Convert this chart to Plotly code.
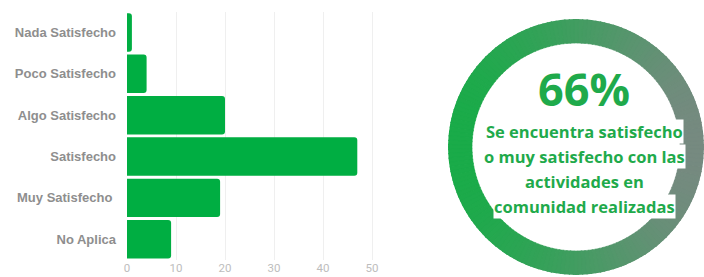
import math
import plotly.graph_objects as go

# ---- data ----
categories = ["Nada Satisfecho", "Poco Satisfecho", "Algo Satisfecho",
              "Satisfecho", "Muy Satisfecho\u00a0", "No Aplica"]
counts = [1, 4, 20, 47, 19, 9]
x_ticks = [0, 10, 20, 30, 40, 50]
headline = "66%"
caption_lines = ["Se encuentra satisfecho", "o muy satisfecho con las",
                 "actividades en", "comunidad realizadas"]

W, H = 704, 277
BAR_GREEN = "#00AE42"
TEXT_GREEN = "#1FAA4B"


def px(x):
    return x / W


def py(y):
    return 1 - y / H


fig = go.Figure()

fig.add_trace(go.Bar(
    y=categories, x=counts, orientation="h",
    marker=dict(color=BAR_GREEN, line=dict(width=0)),
    xaxis="x", yaxis="y", showlegend=False, hoverinfo="skip",
))

# ---- decorative gradient ring (built as thin polar segments) ----
c_left = (0x1A, 0xAB, 0x49)
c_right = (0x76, 0x8A, 0x80)
n_seg = 180
thetas, cols = [], []
for i in range(n_seg):
    t = i * 360 / n_seg
    f = (math.cos(math.radians(t)) + 1) / 2  # 0 at left, 1 at right
    f = f ** 1.2
    rgb = tuple(round(a + (b - a) * f) for a, b in zip(c_left, c_right))
    thetas.append(t)
    cols.append("rgb(%d,%d,%d)" % rgb)

ring_outer = 128
ring_width = 24
fig.add_trace(go.Barpolar(
    theta=thetas, r=[ring_width] * n_seg, base=[ring_outer - ring_width] * n_seg,
    width=[360 / n_seg + 0.3] * n_seg,
    marker=dict(color=cols, line=dict(color=cols, width=0.6)),
    subplot="polar", showlegend=False, hoverinfo="skip",
))

cx, cy = 576, 147
fig.update_layout(
    width=W, height=H,
    margin=dict(l=0, r=0, t=0, b=0),
    paper_bgcolor="white", plot_bgcolor="white",
    bargap=0.07,
    barcornerradius=3,
    hovermode=False,
    xaxis=dict(
        domain=[px(127), px(127 + 4.9 * 52)], range=[0, 52],
        tickvals=x_ticks, showgrid=True, gridcolor="#EFEFEF", gridwidth=1,
        zeroline=False, showline=False, ticks="",
        ticklabelstandoff=0,
        tickfont=dict(family="Roboto", size=11.5, color="#BDBDBD"),
        automargin=False,
    ),
    yaxis=dict(
        domain=[py(259.9), py(11.8)],
        categoryorder="array", categoryarray=categories[::-1],
        showgrid=False, zeroline=False, showline=False, ticks="",
        ticklabelstandoff=10,
        tickfont=dict(family="Liberation Sans", size=13, color="#8E8E8E", weight="bold"),
        automargin=False,
    ),
    polar=dict(
        domain=dict(x=[px(cx - ring_outer), px(cx + ring_outer)],
                    y=[py(cy + ring_outer), py(cy - ring_outer)]),
        bgcolor="rgba(0,0,0,0)",
        radialaxis=dict(visible=False, range=[0, ring_outer]),
        angularaxis=dict(visible=False),
        hole=0,
    ),
)

fig.add_annotation(
    x=px(584), y=py(88), xref="paper", yref="paper", text=headline,
    showarrow=False, xanchor="center", yanchor="middle",
    font=dict(family="Open Sans", size=45, color=TEXT_GREEN, weight="bold"),
)

line_y = [131, 156, 181, 206]
for txt, yy in zip(caption_lines, line_y):
    fig.add_annotation(
        x=px(584), y=py(yy), xref="paper", yref="paper", text=txt,
        showarrow=False, xanchor="center", yanchor="middle",
        bgcolor="white", borderpad=0,
        font=dict(family="Open Sans", size=16.5, color=TEXT_GREEN, weight="bold"),
    )

fig.write_html(
    "out.html",
    config={"displayModeBar": False},
    post_script="document.body.style.margin='0';document.body.style.overflow='hidden';",
)
